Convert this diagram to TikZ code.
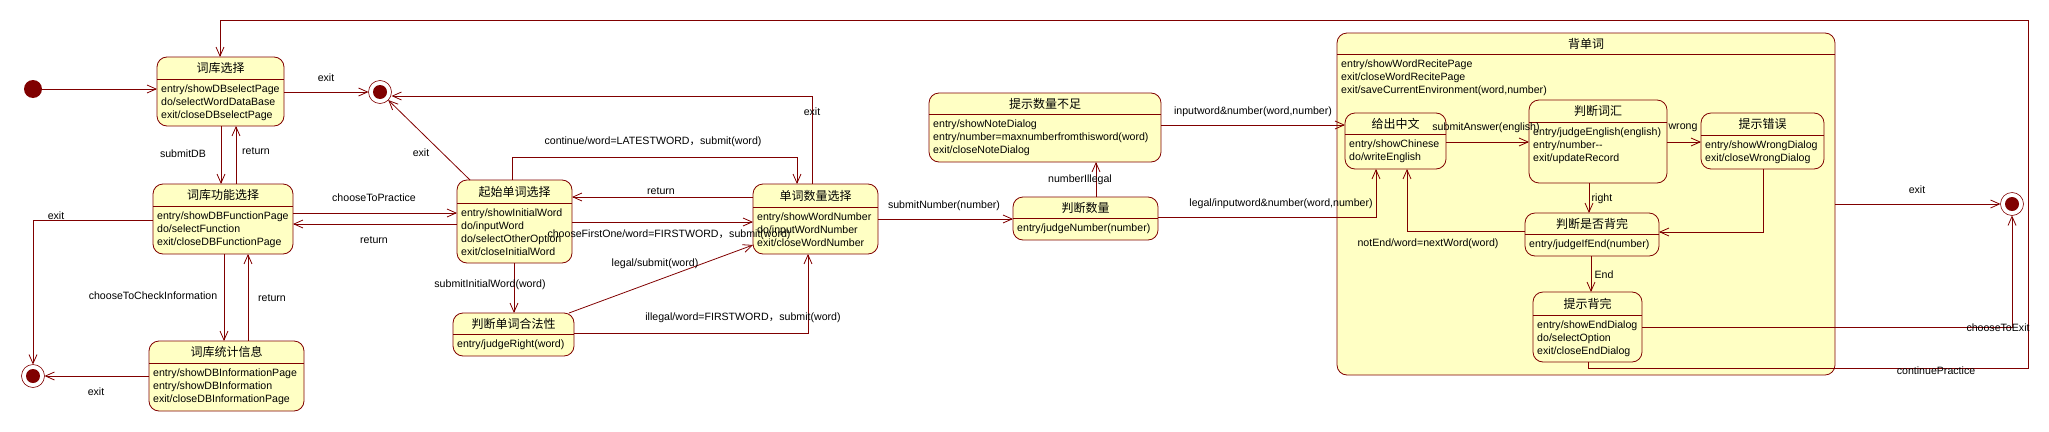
\documentclass[tikz,border=0pt]{standalone}
\usepackage{fontspec}
\setmainfont{Liberation Sans}
\newfontfamily\cjkfont{Noto Sans CJK SC}
\usetikzlibrary{arrows.meta,calc}
\definecolor{umlline}{RGB}{128,0,0}
\definecolor{umlfill}{RGB}{255,255,196}
\newcommand{\fwc}{{\cjkfont ，}}
\newcommand{\umlstate}[8]{%
  \pgfmathsetmacro{\uW}{#4-#2}%
  \pgfmathsetmacro{\uH}{#5-#3}%
  \node[statebox, minimum width=\uW pt, minimum height=\uH pt, anchor=north west] (#1) at (#2,#3) {};
  \draw[edge] (#1.west |- 0,#6) -- (#1.east |- 0,#6);
  \node[stitle] (#1-t) at ($(#1.north)!0.5!(#1.north |- 0,#6)$) {#7};
  \node[sbody, anchor=north west] (#1-b) at (#2+4,#6+5.5) {#8};
}
\begin{document}
\begin{tikzpicture}[x=1pt,y=-1pt,
  edge/.style={draw=umlline, line width=0.8pt},
  arr/.style={edge, -{Straight Barb[length=9pt,width=8pt]}},
  statebox/.style={draw=umlline, line width=0.8pt, fill=umlfill, rounded corners=10pt, inner sep=0pt, outer sep=0pt},
  stitle/.style={font=\cjkfont\fontsize{12}{14}\selectfont, inner sep=0pt},
  sbody/.style={font=\fontsize{10.6}{13}\selectfont, align=left, inner sep=0pt},
  lbl/.style={font=\fontsize{10.6}{13}\selectfont, inner sep=0pt},
  initst/.style={circle, fill=umlline, minimum size=18pt, inner sep=0pt, outer sep=0pt},
  finalst/.style={circle, draw=umlline, line width=0.6pt, fill=white, minimum size=23pt, inner sep=0pt, outer sep=0pt,
    path picture={\fill[umlline] (path picture bounding box.center) circle (7pt);}}
]
\useasboundingbox (0,0) rectangle (2049,431);

% big composite state
\umlstate{recite}{1337}{33}{1835}{375}{54}{背单词}{entry/showWordRecitePage\\exit/closeWordRecitePage\\exit/saveCurrentEnvironment(word,number)}

\umlstate{dbsel}{157}{57}{284}{126}{79}{词库选择}{entry/showDBselectPage\\do/selectWordDataBase\\exit/closeDBselectPage}
\umlstate{dbfunc}{153}{184}{293}{254}{206}{词库功能选择}{entry/showDBFunctionPage\\do/selectFunction\\exit/closeDBFunctionPage}
\umlstate{dbinfo}{149}{341}{304}{411}{363}{词库统计信息}{entry/showDBInformationPage\\entry/showDBInformation\\exit/closeDBInformationPage}
\umlstate{start}{457}{180}{572}{263}{203}{起始单词选择}{entry/showInitialWord\\do/inputWord\\do/selectOtherOption\\exit/closeInitialWord}
\umlstate{legalchk}{453}{313}{574}{356}{334}{判断单词合法性}{entry/judgeRight(word)}
\umlstate{wnum}{753}{184}{878}{254}{207}{单词数量选择}{entry/showWordNumber\\do/inputWordNumber\\exit/closeWordNumber}
\umlstate{notenough}{929}{93}{1161}{162}{114}{提示数量不足}{entry/showNoteDialog\\entry/number=maxnumberfromthisword(word)\\exit/closeNoteDialog}
\umlstate{jnum}{1013}{197}{1158}{240}{218}{判断数量}{entry/judgeNumber(number)}
\umlstate{chinese}{1345}{113}{1446}{169}{134}{给出中文}{entry/showChinese\\do/writeEnglish}
\umlstate{jword}{1529}{100}{1667}{183}{122}{判断词汇}{entry/judgeEnglish(english)\\entry/number-{}-\\exit/updateRecord}
\umlstate{wrongtip}{1701}{113}{1824}{169}{135}{提示错误}{entry/showWrongDialog\\exit/closeWrongDialog}
\umlstate{jend}{1525}{213}{1659}{256}{234}{判断是否背完}{entry/judgeIfEnd(number)}
\umlstate{finish}{1533}{292}{1642}{362}{315}{提示背完}{entry/showEndDialog\\do/selectOption\\exit/closeEndDialog}

% pseudo states
\node[initst] (init) at (33,89) {};
\node[finalst] (f1) at (380,92) {};
\node[finalst] (f2) at (33,376) {};
\node[finalst] (f3) at (2012,204) {};

% transitions
\draw[arr] (init) -- (dbsel.west |- init);
\draw[arr] (dbsel.east |- f1) -- (f1);
\draw[arr] (dbsel.south -| 221,0) -- (dbfunc.north -| 221,0);
\draw[arr] (dbfunc.north -| 236,0) -- (dbsel.south -| 236,0);
\draw[arr] (dbfunc.east |- 0,213) -- (start.west |- 0,213);
\draw[arr] (start.west |- 0,224) -- (dbfunc.east |- 0,224);
\draw[arr] (dbfunc.west |- 0,220) -| (f2);
\draw[arr] (dbfunc.south -| 224,0) -- (dbinfo.north -| 224,0);
\draw[arr] (dbinfo.north -| 248,0) -- (dbfunc.south -| 248,0);
\draw[arr] (dbinfo.west |- f2) -- (f2);
\draw[arr] (start.north -| 470,0) -- (f1);
\draw[arr] (start.north -| 512,0) -- ++(0,-23) -| (wnum.north -| 797,0);
\draw[arr] (wnum.north -| 812,0) -- ++(0,-88) -- (f1.east |- 0,96);
\draw[arr] (wnum.west |- 0,197) -- (start.east |- 0,197);
\draw[arr] (start.east |- 0,222) -- (wnum.west |- 0,222);
\draw[arr] (start.south -| 514,0) -- (legalchk.north -| 514,0);
\draw[arr] (legalchk.north -| 569,0) -- (wnum.west |- 0,245);
\draw[arr] (legalchk.east |- 0,333) -| (wnum.south -| 808,0);
\draw[arr] (wnum.east |- 0,219) -- (jnum.west |- 0,219);
\draw[arr] (jnum.north -| 1096,0) -- (notenough.south -| 1096,0);
\draw[arr] (notenough.east |- 0,125) -- (chinese.west |- 0,125);
\draw[arr] (jnum.east |- 0,217) -| (chinese.south -| 1376,0);
\draw[arr] (chinese.east |- 0,142) -- (jword.west |- 0,142);
\draw[arr] (jword.east |- 0,142) -- (wrongtip.west |- 0,142);
\draw[arr] (jword.south -| 1589,0) -- (jend.north -| 1589,0);
\draw[arr] (wrongtip.south -| 1763,0) |- (jend.east |- 0,232);
\draw[arr] (jend.west |- 0,231) -| (chinese.south -| 1407,0);
\draw[arr] (jend.south -| 1591,0) -- (finish.north -| 1591,0);
\draw[arr] (finish.east |- 0,327) -| (f3);
\draw[arr] (finish.south -| 1588,0) -- ++(0,6) -| ++(440,-348) -| (dbsel.north -| 220,0);
\draw[arr] (recite.east |- f3) -- (f3);

% labels
\node[lbl] (l1) at (326,78) {exit};
\node[lbl] (l2) at (183,154) {submitDB};
\node[lbl] (l3) at (256,151) {return};
\node[lbl] (l4) at (374,198) {chooseToPractice};
\node[lbl] (l5) at (374,240) {return};
\node[lbl] (l6) at (56,216) {exit};
\node[lbl] (l7) at (153,296) {chooseToCheckInformation};
\node[lbl] (l8) at (272,298) {return};
\node[lbl] (l9) at (96,392) {exit};
\node[lbl] (l10) at (421,153) {exit};
\node[lbl] (l11) at (653,142) {continue/word=LATESTWORD\fwc submit(word)};
\node[lbl] (l12) at (812,112) {exit};
\node[lbl] (l13) at (661,191) {return};
\node[lbl] (l14) at (669,235) {chooseFirstOne/word=FIRSTWORD\fwc submit(word)};
\node[lbl] (l15) at (490,285) {submitInitialWord(word)};
\node[lbl] (l16) at (655,264) {legal/submit(word)};
\node[lbl] (l17) at (743,318) {illegal/word=FIRSTWORD\fwc submit(word)};
\node[lbl] (l18) at (944,206) {submitNumber(number)};
\node[lbl] (l19) at (1080,180) {numberIllegal};
\node[lbl] (l20) at (1253,112) {inputword\&number(word,number)};
\node[lbl] (l21) at (1281,204) {legal/inputword\&number(word,number)};
\node[lbl] (l22) at (1486,128) {submitAnswer(english)};
\node[lbl] (l23) at (1683,128) {wrong};
\node[lbl] (l24) at (1602,199) {right};
\node[lbl] (l25) at (1428,244) {notEnd/word=nextWord(word)};
\node[lbl] (l26) at (1604,275) {End};
\node[lbl] (l27) at (1998,328) {chooseToExit};
\node[lbl] (l28) at (1936,371) {continuePractice};
\node[lbl] (l29) at (1917,190) {exit};
\end{tikzpicture}
\end{document}
